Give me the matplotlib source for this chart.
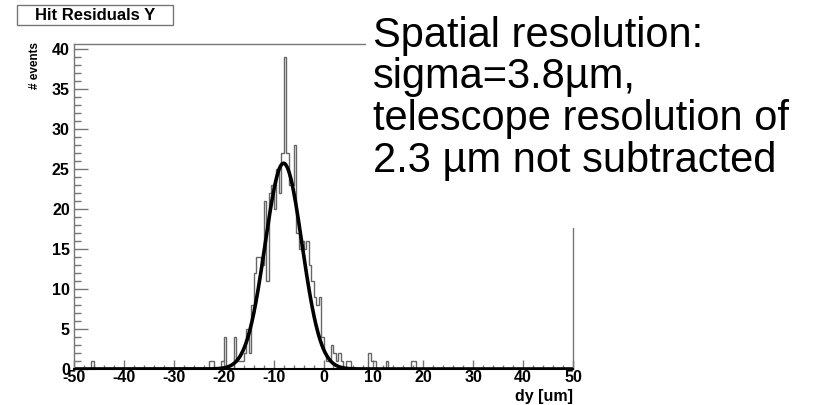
import numpy as np
import matplotlib
matplotlib.use("Agg")
import matplotlib.pyplot as plt
from matplotlib.patches import Rectangle
from matplotlib.ticker import MultipleLocator

plt.rcParams["font.family"] = ["Liberation Sans", "DejaVu Sans"]
plt.rcParams["axes.unicode_minus"] = False

# histogram contents (bin lower edge -> entries), 0.5 um bins
bin_low = [-46.5, -23.0, -22.5, -20.5, -20.0, -18.0, -17.5, -17.0, -16.5, -16.0,
           -15.5, -15.0, -14.5, -14.0, -13.5, -13.0, -12.5, -12.0, -11.5, -11.0,
           -10.5, -10.0, -9.5, -9.0, -8.5, -8.0, -7.5, -7.0, -6.5, -6.0,
           -5.5, -5.0, -4.5, -4.0, -3.5, -3.0, -2.5, -2.0, -1.5, -1.0,
           -0.5, 0.0, 0.5, 1.0, 1.5, 2.0, 2.5, 3.0, 3.5, 4.5,
           5.0, 9.0, 9.5, 10.0, 12.5, 17.5, 18.0]
bin_count = [1, 1, 1, 1, 4, 4, 1, 1, 1, 2,
             5, 2, 8, 12, 14, 14, 13, 21, 11, 22,
             23, 20, 25, 22, 27, 39, 27, 23, 23, 28,
             17, 15, 16, 15, 16, 13, 11, 9, 8, 9,
             4, 2, 1, 1, 3, 2, 1, 2, 1, 1,
             1, 2, 1, 1, 1, 1, 1]

# gaussian fit parameters
fit_const = 25.7
fit_mean = -8.0
fit_sigma = 3.7

x_ticks = [-50, -40, -30, -20, -10, 0, 10, 20, 30, 40, 50]
y_ticks = [0, 5, 10, 15, 20, 25, 30, 35, 40]

W, H = 815, 405
fig = plt.figure(figsize=(W / 100, H / 100), dpi=100)
ax = fig.add_axes([74 / W, 36 / H, 499 / W, 325 / H])

edges = np.arange(-50, 50.001, 0.5)
centers = np.array(bin_low) + 0.25
ax.hist(centers, bins=edges, weights=bin_count, histtype="step",
        color="#666666", lw=1.0)

xf = np.linspace(-50, 50, 1000)
yf = fit_const * np.exp(-0.5 * ((xf - fit_mean) / fit_sigma) ** 2)
ax.plot(xf, yf, color="black", lw=2.6, solid_capstyle="butt")

ax.set_xlim(-50, 50)
ax.set_ylim(0, 40.6)
ax.set_xticks(x_ticks)
ax.set_yticks(y_ticks)
ax.xaxis.set_minor_locator(MultipleLocator(2))
ax.yaxis.set_minor_locator(MultipleLocator(1))
ax.tick_params(axis="x", which="major", direction="in", length=6.5, width=1,
               color="#777777", pad=1, labelsize=11.5)
ax.tick_params(axis="x", which="minor", direction="in", length=3, width=1,
               color="#777777")
ax.tick_params(axis="y", which="major", direction="in", length=10, width=1,
               color="#777777", pad=3, labelsize=11.5)
ax.tick_params(axis="y", which="minor", direction="in", length=5, width=1,
               color="#777777")
for lab in ax.get_xticklabels() + ax.get_yticklabels():
    lab.set_fontweight("bold")
for side in ["top", "right", "left"]:
    ax.spines[side].set_color("#777777")
    ax.spines[side].set_linewidth(1.0)
ax.spines["bottom"].set_color("black")
ax.spines["bottom"].set_linewidth(1.5)

fig.text(35 / W, 1 - 42 / H, "# events", rotation=90, ha="center", va="top",
         fontsize=8.5, fontweight="bold")
fig.text(573 / W, 1 - 389 / H, "dy [um]", ha="right", va="top",
         fontsize=11.5, fontweight="bold")

# title box
fig.add_artist(Rectangle((17 / W, 1 - 25 / H), 156 / W, 20 / H,
                         transform=fig.transFigure, facecolor="white",
                         edgecolor="#777777", lw=1.0, zorder=5))
fig.text(95 / W, 1 - 15.5 / H, "Hit Residuals Y", ha="center", va="center",
         fontsize=12, fontweight="bold", zorder=6)

# white text box over the upper right part of the frame
fig.add_artist(Rectangle((366 / W, 1 - 228 / H), (W - 366) / W, 228 / H,
                         transform=fig.transFigure, facecolor="white",
                         edgecolor="none", zorder=8))
note_lines = ["Spatial resolution:", "sigma=3.8µm,",
              "telescope resolution of", "2.3 µm not subtracted"]
for i, line in enumerate(note_lines):
    fig.text(373 / W, 1 - (46.7 + 41.7 * i) / H, line, ha="left",
             va="baseline", fontsize=30, zorder=9)

fig.savefig("out.png", dpi=100)
